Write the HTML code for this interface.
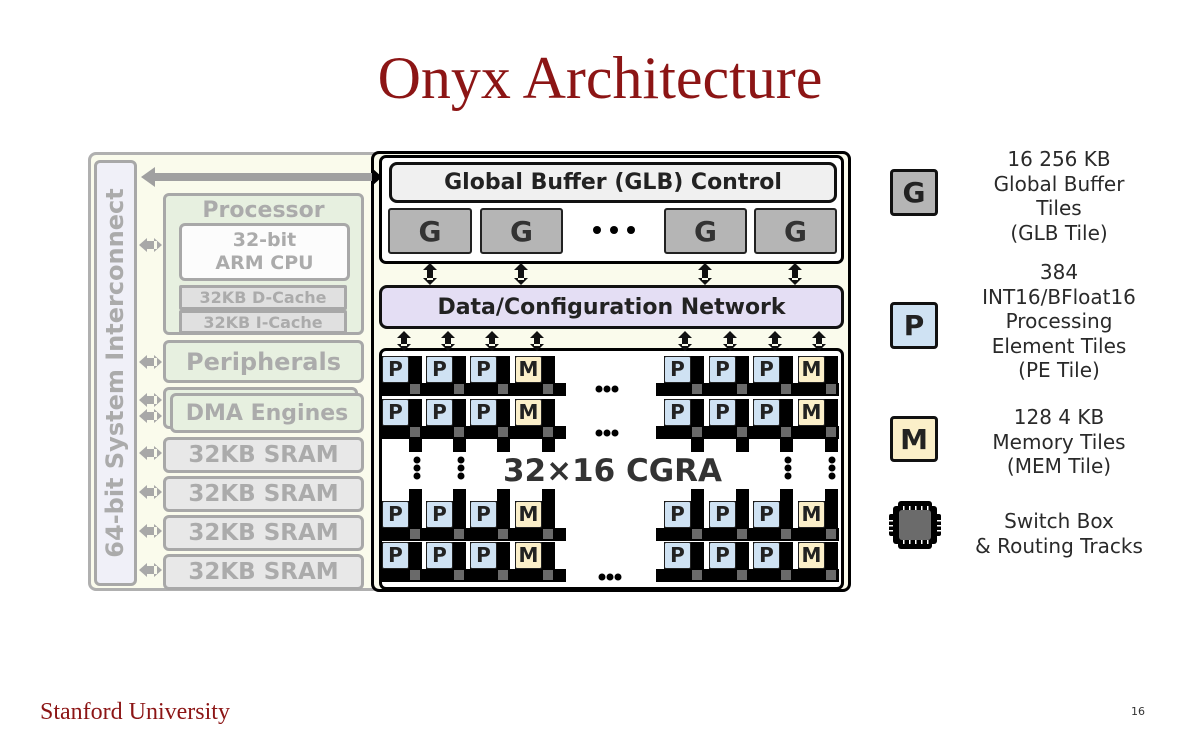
<!DOCTYPE html>
<html><head><meta charset="utf-8"><style>
*{box-sizing:border-box;margin:0;padding:0}
body{width:1200px;height:747px;background:#fff;position:relative;overflow:hidden;font-family:"DejaVu Sans","Liberation Sans",sans-serif}
.a{position:absolute}
.bx{position:absolute;border-radius:6px;display:flex;align-items:center;justify-content:center;font-weight:bold;text-align:center}
.gy{border:3px solid #a8a8a8;color:#ababab}
.g{background:#b5b5b5;border:2px solid #222;color:#333;font-size:28px;border-radius:3px}
.c{position:absolute;width:40px;height:40px;background:#000}
.c .t{position:absolute;left:0;top:0;width:27px;height:27px;border:1px solid #222;border-radius:2px;background:#cfe2f3;font-weight:bold;font-size:20px;line-height:25px;text-align:center;color:#222}
.c .t.m{background:#fbefc9}
.c .s{position:absolute;left:28px;top:28px;width:10px;height:10px;background:#6a6a6a}
.hb{position:absolute;height:13px;background:#000}
.vb{position:absolute;width:13px;background:#000}
.lg{position:absolute;width:230px;text-align:center;font-size:20px;line-height:24.5px;color:#2a2a2a}
</style></head><body>

<div class="a" style="left:0;top:44px;width:1200px;text-align:center;font-family:'Liberation Serif',serif;font-size:60px;color:#8c1515">Onyx Architecture</div>

<div class="a" style="left:88px;top:152px;width:762px;height:439px;border:3px solid #b0b0b0;border-radius:8px;background:#fafbec"></div>
<div class="a" style="left:94px;top:160px;width:43px;height:426px;border:3px solid #a8a8a8;border-radius:6px;background:#f0f0f8"></div>
<div class="a" style="left:115px;top:373px;width:0;height:0"><div style="position:absolute;left:-220px;top:-15px;width:440px;text-align:center;transform:rotate(-90deg);font-weight:bold;font-size:24px;color:#ababab;white-space:nowrap;line-height:30px">64-bit System Interconnect</div></div>

<div class="a gy" style="left:163px;top:193px;width:201px;height:142px;border-radius:6px;background:#e7f0e0"></div>
<div class="a" style="left:163px;top:198px;width:201px;text-align:center;font-weight:bold;font-size:22px;color:#ababab">Processor</div>
<div class="bx gy" style="left:179px;top:223px;width:171px;height:58px;background:#fcfcfc;font-size:19px;line-height:23px">32-bit<br>ARM CPU</div>
<div class="bx gy" style="left:179px;top:285px;width:168px;height:25px;background:#e0e0e0;font-size:16px;border-radius:2px">32KB D-Cache</div>
<div class="bx gy" style="left:179px;top:310px;width:168px;height:24px;background:#e0e0e0;font-size:16px;border-radius:2px">32KB I-Cache</div>
<div class="bx gy" style="left:163px;top:340px;width:201px;height:43px;background:#e7f0e0;font-size:24px">Peripherals</div>
<div class="bx gy" style="left:163px;top:387px;width:195px;height:42px;background:#e7f0e0"></div>
<div class="bx gy" style="left:170px;top:393px;width:194px;height:40px;background:#e7f0e0;font-size:22px">DMA Engines</div>
<div class="bx gy" style="left:163px;top:437px;width:201px;height:36px;background:#e8e8e8;font-size:23px">32KB SRAM</div>
<div class="bx gy" style="left:163px;top:476px;width:201px;height:36px;background:#e8e8e8;font-size:23px">32KB SRAM</div>
<div class="bx gy" style="left:163px;top:515px;width:201px;height:36px;background:#e8e8e8;font-size:23px">32KB SRAM</div>
<div class="bx gy" style="left:163px;top:554px;width:201px;height:36px;background:#e8e8e8;font-size:23px">32KB SRAM</div>

<div class="a" style="left:371px;top:151px;width:480px;height:441px;border:3px solid #000;border-radius:8px;background:#fafbec"></div>
<div class="a" style="left:379px;top:155px;width:465px;height:109px;border:3px solid #000;border-radius:7px;background:#fff"></div>
<div class="bx" style="left:389px;top:162px;width:448px;height:41px;border:3px solid #111;border-radius:8px;background:#f0f0f0;font-size:22px;color:#222">Global Buffer (GLB) Control</div>
<div class="bx g" style="left:388px;top:208px;width:84px;height:46px">G</div>
<div class="bx g" style="left:480px;top:208px;width:83px;height:46px">G</div>
<div class="bx g" style="left:664px;top:208px;width:83px;height:46px">G</div>
<div class="bx g" style="left:754px;top:208px;width:83px;height:46px">G</div>
<div class="bx" style="left:379px;top:285px;width:465px;height:44px;border:3px solid #111;border-radius:8px;background:#e4def4;font-size:22px;color:#222">Data/Configuration Network</div>

<div class="a" style="left:379px;top:348px;width:465px;height:242px;border:3px solid #000;border-radius:7px;background:#fff;overflow:hidden">
 <div style="position:absolute;left:-2px;top:-2px;width:465px;height:242px">
  <div class="hb" style="left:0;top:34px;width:186px"></div>
  <div class="hb" style="left:0;top:77px;width:186px"></div>
  <div class="hb" style="left:0;top:179px;width:186px"></div>
  <div class="hb" style="left:0;top:220px;width:186px"></div>
  <div class="hb" style="left:276px;top:34px;width:183px"></div>
  <div class="hb" style="left:276px;top:77px;width:183px"></div>
  <div class="hb" style="left:276px;top:179px;width:183px"></div>
  <div class="hb" style="left:276px;top:220px;width:183px"></div>
  <div class="vb" style="left:29px;top:90px;height:13px"></div><div class="vb" style="left:73px;top:90px;height:13px"></div><div class="vb" style="left:117px;top:90px;height:13px"></div><div class="vb" style="left:162px;top:90px;height:13px"></div>
  <div class="vb" style="left:311px;top:90px;height:13px"></div><div class="vb" style="left:356px;top:90px;height:13px"></div><div class="vb" style="left:400px;top:90px;height:13px"></div><div class="vb" style="left:445px;top:90px;height:13px"></div>
  <div class="vb" style="left:29px;top:140px;height:15px"></div><div class="vb" style="left:73px;top:140px;height:15px"></div><div class="vb" style="left:117px;top:140px;height:15px"></div><div class="vb" style="left:162px;top:140px;height:15px"></div>
  <div class="vb" style="left:311px;top:140px;height:15px"></div><div class="vb" style="left:356px;top:140px;height:15px"></div><div class="vb" style="left:400px;top:140px;height:15px"></div><div class="vb" style="left:445px;top:140px;height:15px"></div>
  <div class="c" style="left:2px;top:7px"><div class="t">P</div><div class="s"></div></div>
  <div class="c" style="left:46px;top:7px"><div class="t">P</div><div class="s"></div></div>
  <div class="c" style="left:90px;top:7px"><div class="t">P</div><div class="s"></div></div>
  <div class="c" style="left:135px;top:7px"><div class="t m">M</div><div class="s"></div></div>
  <div class="c" style="left:284px;top:7px"><div class="t">P</div><div class="s"></div></div>
  <div class="c" style="left:329px;top:7px"><div class="t">P</div><div class="s"></div></div>
  <div class="c" style="left:373px;top:7px"><div class="t">P</div><div class="s"></div></div>
  <div class="c" style="left:418px;top:7px"><div class="t m">M</div><div class="s"></div></div>
  <div class="c" style="left:2px;top:50px"><div class="t">P</div><div class="s"></div></div>
  <div class="c" style="left:46px;top:50px"><div class="t">P</div><div class="s"></div></div>
  <div class="c" style="left:90px;top:50px"><div class="t">P</div><div class="s"></div></div>
  <div class="c" style="left:135px;top:50px"><div class="t m">M</div><div class="s"></div></div>
  <div class="c" style="left:284px;top:50px"><div class="t">P</div><div class="s"></div></div>
  <div class="c" style="left:329px;top:50px"><div class="t">P</div><div class="s"></div></div>
  <div class="c" style="left:373px;top:50px"><div class="t">P</div><div class="s"></div></div>
  <div class="c" style="left:418px;top:50px"><div class="t m">M</div><div class="s"></div></div>
  <div class="c" style="left:2px;top:152px"><div class="t">P</div><div class="s"></div></div>
  <div class="c" style="left:46px;top:152px"><div class="t">P</div><div class="s"></div></div>
  <div class="c" style="left:90px;top:152px"><div class="t">P</div><div class="s"></div></div>
  <div class="c" style="left:135px;top:152px"><div class="t m">M</div><div class="s"></div></div>
  <div class="c" style="left:284px;top:152px"><div class="t">P</div><div class="s"></div></div>
  <div class="c" style="left:329px;top:152px"><div class="t">P</div><div class="s"></div></div>
  <div class="c" style="left:373px;top:152px"><div class="t">P</div><div class="s"></div></div>
  <div class="c" style="left:418px;top:152px"><div class="t m">M</div><div class="s"></div></div>
  <div class="c" style="left:2px;top:193px"><div class="t">P</div><div class="s"></div></div>
  <div class="c" style="left:46px;top:193px"><div class="t">P</div><div class="s"></div></div>
  <div class="c" style="left:90px;top:193px"><div class="t">P</div><div class="s"></div></div>
  <div class="c" style="left:135px;top:193px"><div class="t m">M</div><div class="s"></div></div>
  <div class="c" style="left:284px;top:193px"><div class="t">P</div><div class="s"></div></div>
  <div class="c" style="left:329px;top:193px"><div class="t">P</div><div class="s"></div></div>
  <div class="c" style="left:373px;top:193px"><div class="t">P</div><div class="s"></div></div>
  <div class="c" style="left:418px;top:193px"><div class="t m">M</div><div class="s"></div></div>
  <div style="position:absolute;left:0;top:104px;width:465px;text-align:center;font-weight:bold;font-size:31px;color:#333;line-height:36px">32×16 CGRA</div>
 </div>
</div>

<svg class="a" style="left:0;top:0" width="1200" height="747">
 <g fill="#000">
  <circle cx="599" cy="389" r="3.5"/><circle cx="607" cy="389" r="3.5"/><circle cx="615" cy="389" r="3.5"/>
  <circle cx="599" cy="433" r="3.5"/><circle cx="607" cy="433" r="3.5"/><circle cx="615" cy="433" r="3.5"/>
  <circle cx="602" cy="577" r="3.5"/><circle cx="610" cy="577" r="3.5"/><circle cx="618" cy="577" r="3.5"/>
  <circle cx="417" cy="460" r="3.5"/><circle cx="417" cy="468" r="3.5"/><circle cx="417" cy="476" r="3.5"/>
  <circle cx="461" cy="460" r="3.5"/><circle cx="461" cy="468" r="3.5"/><circle cx="461" cy="476" r="3.5"/>
  <circle cx="788" cy="460" r="3.5"/><circle cx="788" cy="468" r="3.5"/><circle cx="788" cy="476" r="3.5"/>
  <circle cx="832" cy="460" r="3.5"/><circle cx="832" cy="468" r="3.5"/><circle cx="832" cy="476" r="3.5"/>
  <circle cx="597" cy="230" r="4"/><circle cx="614" cy="230" r="4"/><circle cx="631" cy="230" r="4"/>
 </g>
 <g fill="#111">
  <path d="M427 268h6v12h-6z M423 270l7-7 7 7z M423 278l7 7 7-7z"/>
  <path d="M518 268h6v12h-6z M514 270l7-7 7 7z M514 278l7 7 7-7z"/>
  <path d="M702 268h6v12h-6z M698 270l7-7 7 7z M698 278l7 7 7-7z"/>
  <path d="M792 268h6v12h-6z M788 270l7-7 7 7z M788 278l7 7 7-7z"/>
  <path d="M401 336h6v10h-6z M397 338l7-7 7 7z M397 344l7 7 7-7z"/>
  <path d="M445 336h6v10h-6z M441 338l7-7 7 7z M441 344l7 7 7-7z"/>
  <path d="M489 336h6v10h-6z M485 338l7-7 7 7z M485 344l7 7 7-7z"/>
  <path d="M534 336h6v10h-6z M530 338l7-7 7 7z M530 344l7 7 7-7z"/>
  <path d="M682 336h6v10h-6z M678 338l7-7 7 7z M678 344l7 7 7-7z"/>
  <path d="M727 336h6v10h-6z M723 338l7-7 7 7z M723 344l7 7 7-7z"/>
  <path d="M772 336h6v10h-6z M768 338l7-7 7 7z M768 344l7 7 7-7z"/>
  <path d="M816 336h6v10h-6z M812 338l7-7 7 7z M812 344l7 7 7-7z"/>
 </g>
 <path d="M152 173h220v8H152z M141 177l14-10v20z" fill="#a0a0a0"/>
 <path d="M372 168l10 9-10 9z" fill="#000"/>
 <g fill="#a8a8a8" id="sa">
  <path d="M145 241h12v8h-12z M139 245l8-7v14z M162 245l-8-7v14z"/>
  <path d="M145 358h12v8h-12z M139 362l8-7v14z M162 362l-8-7v14z"/>
  <path d="M145 396h12v8h-12z M139 400l8-7v14z M162 400l-8-7v14z"/>
  <path d="M145 412h12v8h-12z M139 416l8-7v14z M162 416l-8-7v14z"/>
  <path d="M145 449h12v8h-12z M139 453l8-7v14z M162 453l-8-7v14z"/>
  <path d="M145 488h12v8h-12z M139 492l8-7v14z M162 492l-8-7v14z"/>
  <path d="M145 527h12v8h-12z M139 531l8-7v14z M162 531l-8-7v14z"/>
  <path d="M145 566h12v8h-12z M139 570l8-7v14z M162 570l-8-7v14z"/>
 </g>
 <g fill="#000">
  <rect x="893" y="506" width="44" height="38" rx="3"/>
  <rect x="898" y="501" width="34" height="48" rx="3"/>
  <rect x="889" y="514" width="52" height="22" rx="2"/>
 </g>
 <g fill="#fff">
  <rect x="903" y="506" width="1.5" height="4"/><rect x="909" y="506" width="1.5" height="4"/><rect x="915" y="506" width="1.5" height="4"/><rect x="921" y="506" width="1.5" height="4"/><rect x="927" y="506" width="1.5" height="4"/>
  <rect x="903" y="540" width="1.5" height="4"/><rect x="909" y="540" width="1.5" height="4"/><rect x="915" y="540" width="1.5" height="4"/><rect x="921" y="540" width="1.5" height="4"/><rect x="927" y="540" width="1.5" height="4"/>
  <rect x="889" y="520" width="4" height="1.5"/><rect x="889" y="525" width="4" height="1.5"/><rect x="889" y="530" width="4" height="1.5"/>
  <rect x="937" y="520" width="4" height="1.5"/><rect x="937" y="525" width="4" height="1.5"/><rect x="937" y="530" width="4" height="1.5"/>
 </g>
 <rect x="899" y="510" width="32" height="30" rx="3" fill="#6b6b6b"/>
</svg>

<div class="bx" style="left:890px;top:169px;width:48px;height:47px;background:#b5b5b5;border:3px solid #111;border-radius:4px;font-size:28px;color:#222">G</div>
<div class="bx" style="left:890px;top:302px;width:48px;height:47px;background:#cfe2f3;border:3px solid #111;border-radius:4px;font-size:28px;color:#222">P</div>
<div class="bx" style="left:890px;top:416px;width:48px;height:46px;background:#fbefc9;border:3px solid #111;border-radius:4px;font-size:28px;color:#222">M</div>
<div class="lg" style="left:944px;top:147px">16 256 KB<br>Global Buffer<br>Tiles<br>(GLB Tile)</div>
<div class="lg" style="left:944px;top:260px">384<br>INT16/BFloat16<br>Processing<br>Element Tiles<br>(PE Tile)</div>
<div class="lg" style="left:944px;top:405px">128 4 KB<br>Memory Tiles<br>(MEM Tile)</div>
<div class="lg" style="left:944px;top:509px">Switch Box<br>&amp; Routing Tracks</div>

<div class="a" style="left:40px;top:699px;font-family:'Liberation Serif',serif;font-size:24px;color:#8c1515">Stanford University</div>
<div class="a" style="left:1131px;top:705px;font-size:11px;color:#333">16</div>
</body></html>
